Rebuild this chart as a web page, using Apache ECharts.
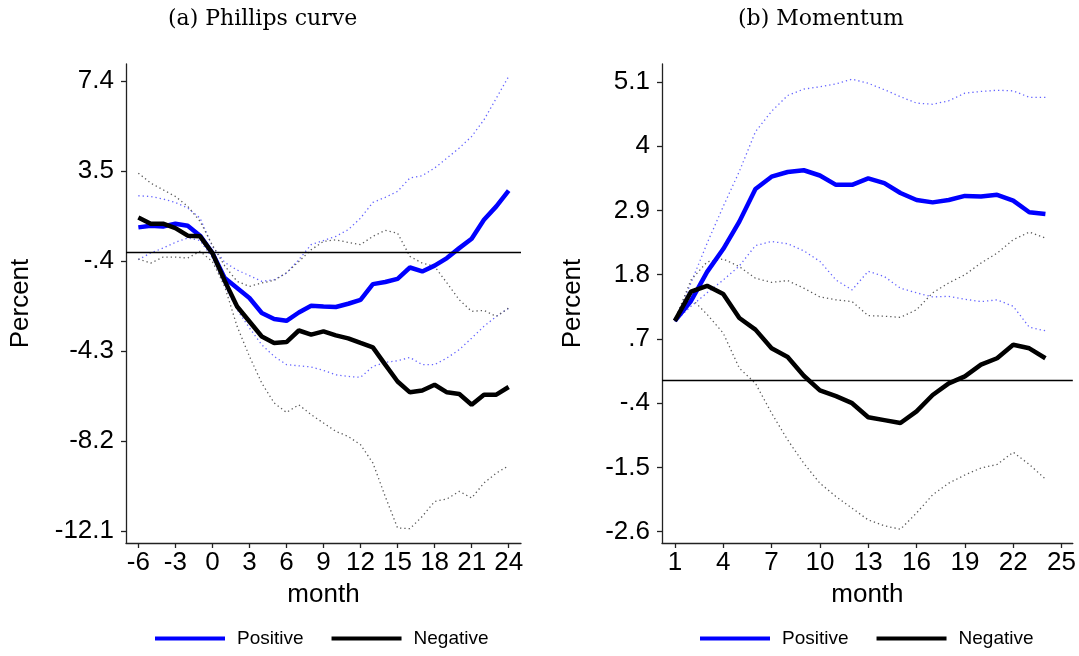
<!DOCTYPE html>
<html>
<head>
<meta charset="utf-8">
<script src="https://cdn.jsdelivr.net/npm/echarts@6/dist/echarts.min.js"></script>
<style>
html, body { margin: 0; padding: 0; background: #fff; }
#chart { width: 1079px; height: 656px; }
</style>
</head>
<body>
<div id="chart"></div>
<script>
// (a) Phillips curve
var monthsA = [-6, -5, -4, -3, -2, -1, 0, 1, 2, 3, 4, 5, 6, 7, 8, 9, 10, 11, 12, 13, 14, 15, 16, 17, 18, 19, 20, 21, 22, 23, 24];
var posA = [1.07, 1.14, 1.11, 1.23, 1.14, 0.71, -0.04, -1.13, -1.56, -1.99, -2.64, -2.90, -2.98, -2.62, -2.33, -2.36, -2.38, -2.24, -2.07, -1.39, -1.30, -1.16, -0.67, -0.84, -0.59, -0.26, 0.17, 0.58, 1.40, 1.98, 2.66];
var negA = [1.50, 1.23, 1.23, 1.04, 0.71, 0.68, -0.05, -1.25, -2.36, -3.01, -3.66, -3.94, -3.90, -3.40, -3.58, -3.44, -3.61, -3.74, -3.94, -4.13, -4.88, -5.61, -6.08, -6.00, -5.75, -6.08, -6.15, -6.62, -6.18, -6.18, -5.85];
var posHiA = [2.44, 2.41, 2.30, 2.15, 1.91, 1.47, 0.24, -0.45, -0.78, -1.02, -1.27, -1.20, -0.91, -0.33, 0.32, 0.50, 0.68, 0.97, 1.47, 2.15, 2.37, 2.63, 3.21, 3.31, 3.64, 4.07, 4.51, 5.01, 5.73, 6.67, 7.61];
var posLoA = [-0.33, -0.04, 0.17, 0.42, 0.61, 0.50, -0.25, -1.45, -2.50, -3.29, -4.02, -4.52, -4.88, -4.93, -4.98, -5.13, -5.32, -5.39, -5.43, -4.96, -4.78, -4.71, -4.57, -4.88, -4.88, -4.59, -4.23, -3.73, -3.22, -2.79, -2.43];
var negHiA = [3.42, 2.99, 2.70, 2.41, 1.98, 1.33, 0.30, -0.60, -1.27, -1.49, -1.34, -1.23, -0.90, -0.41, 0.10, 0.46, 0.53, 0.42, 0.32, 0.68, 0.94, 0.82, -0.19, -0.48, -0.62, -1.34, -2.07, -2.57, -2.53, -2.79, -2.43];
var negLoA = [-0.30, -0.48, -0.22, -0.22, -0.26, 0.03, -0.41, -1.50, -3.22, -4.52, -5.68, -6.54, -6.95, -6.62, -7.05, -7.41, -7.77, -7.99, -8.35, -9.14, -10.59, -11.96, -11.99, -11.46, -10.81, -10.70, -10.37, -10.66, -10.01, -9.58, -9.26];
var xTicksA = [-6, -3, 0, 3, 6, 9, 12, 15, 18, 21, 24];
var yTicksA = [-12.1, -8.2, -4.3, -0.4, 3.5, 7.4];

// (b) Momentum
var monthsB = [1, 2, 3, 4, 5, 6, 7, 8, 9, 10, 11, 12, 13, 14, 15, 16, 17, 18, 19, 20, 21, 22, 23, 24];
var posB = [1.01, 1.35, 1.85, 2.24, 2.71, 3.27, 3.48, 3.56, 3.59, 3.50, 3.34, 3.34, 3.45, 3.37, 3.20, 3.08, 3.04, 3.08, 3.15, 3.14, 3.17, 3.07, 2.87, 2.84];
var negB = [1.01, 1.51, 1.61, 1.47, 1.06, 0.86, 0.54, 0.39, 0.07, -0.18, -0.28, -0.40, -0.64, -0.69, -0.74, -0.54, -0.26, -0.06, 0.06, 0.26, 0.37, 0.60, 0.54, 0.37];
var posHiB = [1.02, 1.66, 2.34, 2.97, 3.57, 4.25, 4.60, 4.87, 4.98, 5.02, 5.07, 5.15, 5.08, 4.97, 4.85, 4.74, 4.72, 4.78, 4.91, 4.94, 4.96, 4.95, 4.84, 4.84];
var posLoB = [1.00, 1.26, 1.49, 1.71, 1.95, 2.30, 2.37, 2.33, 2.21, 2.03, 1.71, 1.54, 1.86, 1.77, 1.57, 1.49, 1.42, 1.43, 1.38, 1.34, 1.37, 1.26, 0.90, 0.84];
var negHiB = [1.02, 1.71, 2.02, 2.07, 1.94, 1.74, 1.67, 1.70, 1.57, 1.42, 1.37, 1.34, 1.10, 1.09, 1.07, 1.20, 1.49, 1.66, 1.80, 2.00, 2.17, 2.40, 2.53, 2.43];
var negLoB = [1.00, 1.40, 1.12, 0.80, 0.20, -0.06, -0.57, -1.03, -1.43, -1.77, -2.00, -2.20, -2.40, -2.50, -2.56, -2.28, -1.97, -1.77, -1.63, -1.51, -1.45, -1.24, -1.45, -1.70];
var xTicksB = [1, 4, 7, 10, 13, 16, 19, 22, 25];
var yTicksB = [-2.6, -1.5, -0.4, 0.7, 1.8, 2.9, 4, 5.1];

var SANS = 'Liberation Sans';
var BLUE = '#0000ff';
var BLUE_CI = '#6464ff';
var GREY_CI = '#5a5a5a';

function pairs(xs, ys) {
  return xs.map(function (x, i) { return [x, ys[i]]; });
}

// Stata style: drop the leading zero (-.4, .7)
function stataFmt(v) {
  return String(v).replace(/^(-?)0\./, '$1.');
}

function xAxisOf(idx, min, max, ticks) {
  return {
    type: 'value', gridIndex: idx, min: min, max: max,
    splitLine: { show: false },
    axisLine: { onZero: false, lineStyle: { color: '#222', width: 1.3 } },
    axisTick: { length: 5, customValues: ticks, lineStyle: { color: '#222', width: 1.3 } },
    axisLabel: { customValues: ticks, fontFamily: SANS, fontSize: 26, color: '#000', margin: 7 },
    name: 'month', nameLocation: 'middle', nameGap: 39,
    nameTextStyle: { fontFamily: SANS, fontSize: 26, color: '#000' }
  };
}

function yAxisOf(idx, min, max, ticks, gap) {
  return {
    type: 'value', gridIndex: idx, min: min, max: max,
    splitLine: { show: false },
    axisLine: { show: true, onZero: false, lineStyle: { color: '#222', width: 1.3 } },
    axisTick: { show: true, length: 5, customValues: ticks, lineStyle: { color: '#222', width: 1.3 } },
    axisLabel: { customValues: ticks, formatter: stataFmt, fontFamily: SANS, fontSize: 26, color: '#000', margin: 12 },
    name: 'Percent', nameLocation: 'middle', nameGap: gap,
    nameTextStyle: { fontFamily: SANS, fontSize: 26, color: '#000' }
  };
}

function ci(name, idx, xs, ys, color) {
  return {
    name: name, type: 'line', xAxisIndex: idx, yAxisIndex: idx,
    data: pairs(xs, ys), showSymbol: false, silent: true, z: 2,
    lineStyle: { color: color, width: 1.3, type: [1.3, 3] }
  };
}

function main(name, idx, xs, ys, color, zeroLine) {
  var s = {
    name: name, type: 'line', xAxisIndex: idx, yAxisIndex: idx,
    data: pairs(xs, ys), showSymbol: false, z: 4,
    itemStyle: { color: color },
    lineStyle: { color: color, width: 4.5 }
  };
  if (zeroLine) {
    s.markLine = {
      silent: true, symbol: 'none', label: { show: false },
      lineStyle: { color: '#000', width: 1.4, type: 'solid' },
      data: [{ yAxis: 0 }]
    };
  }
  return s;
}

function legendOf(left) {
  return {
    left: left, top: 629, padding: 0, itemGap: 28,
    itemWidth: 70, itemHeight: 4, icon: 'rect',
    data: ['Positive', 'Negative'],
    textStyle: { fontFamily: SANS, fontSize: 19, color: '#000', padding: [0, 0, 0, 7] }
  };
}

var titleStyle = { fontFamily: 'DejaVu Serif', fontWeight: 'normal', fontSize: 22, color: '#000' };

var chart = echarts.init(document.getElementById('chart'));
chart.setOption({
  animation: false,
  backgroundColor: '#fff',
  title: [
    { text: '(a) Phillips curve', left: 163, top: 3, textStyle: titleStyle },
    { text: '(b) Momentum', left: 733, top: 3, textStyle: titleStyle }
  ],
  legend: [legendOf(155), legendOf(700)],
  grid: [
    { left: 126, top: 64, width: 395, height: 479 },
    { left: 662, top: 64, width: 411, height: 479 }
  ],
  xAxis: [xAxisOf(0, -7, 25, xTicksA), xAxisOf(1, 0.2, 25.7, xTicksB)],
  yAxis: [yAxisOf(0, -12.61, 8.15, yTicksA, 92), yAxisOf(1, -2.795, 5.41, yTicksB, 76)],
  series: [
    ci('pos hi a', 0, monthsA, posHiA, BLUE_CI),
    ci('pos lo a', 0, monthsA, posLoA, BLUE_CI),
    ci('neg hi a', 0, monthsA, negHiA, GREY_CI),
    ci('neg lo a', 0, monthsA, negLoA, GREY_CI),
    main('Positive', 0, monthsA, posA, BLUE, true),
    main('Negative', 0, monthsA, negA, '#000', false),
    ci('pos hi b', 1, monthsB, posHiB, BLUE_CI),
    ci('pos lo b', 1, monthsB, posLoB, BLUE_CI),
    ci('neg hi b', 1, monthsB, negHiB, GREY_CI),
    ci('neg lo b', 1, monthsB, negLoB, GREY_CI),
    main('Positive', 1, monthsB, posB, BLUE, true),
    main('Negative', 1, monthsB, negB, '#000', false)
  ]
});
</script>
</body>
</html>
